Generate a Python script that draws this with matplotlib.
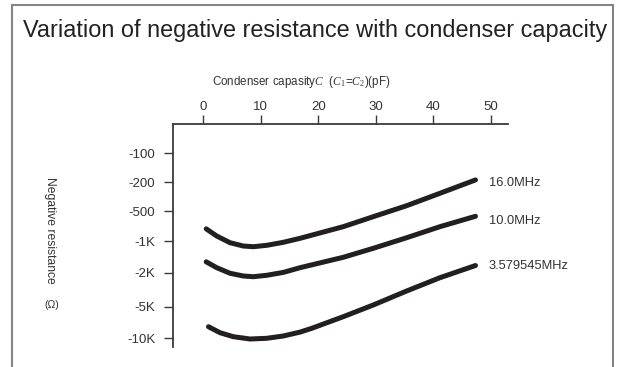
import numpy as np
import matplotlib
matplotlib.use("Agg")
import matplotlib.pyplot as plt
from matplotlib.patches import Rectangle

plt.rcParams["font.family"] = ["Liberation Sans", "DejaVu Sans"]
plt.rcParams["mathtext.fontset"] = "custom"
plt.rcParams["mathtext.rm"] = "Liberation Serif"
plt.rcParams["mathtext.it"] = "Liberation Serif:italic"

# Condenser capacity C (pF) and negative resistance (ohm) for each crystal
cap_16mhz = [0.5, 2.33, 4.64, 6.95, 8.69, 11.02, 13.9, 16.8, 24.33, 29.54, 35.34, 41.13, 47.3]
res_16mhz = [-755, -891, -1038, -1116, -1133, -1099, -1029, -940, -718, -570, -422, -284, -189]

cap_10mhz = [0.5, 2.33, 4.64, 6.95, 8.69, 11.02, 13.9, 16.8, 24.33, 29.54, 35.34, 41.13, 47.3]
res_10mhz = [-1576, -1793, -2030, -2186, -2228, -2145, -1987, -1793, -1428, -1173, -927, -718, -565]

cap_3579 = [0.9, 2.9, 5.21, 8.12, 11.02, 13.9, 16.8, 18.84, 24.33, 29.54, 35.34, 41.13, 47.3]
res_3579 = [-7756, -8845, -9654, -10155, -10000, -9506, -8730, -8035, -6223, -4775, -3274, -2288, -1709]

series_labels = ["16.0MHz", "10.0MHz", "3.579545MHz"]

x_ticks = [0, 10, 20, 30, 40, 50]
y_ticks = [-100, -200, -500, -1000, -2000, -5000, -10000]
y_tick_labels = ["-100", "-200", "-500", "-1K", "-2K", "-5K", "-10K"]

# Piecewise resistance axis: log10|R| at each tick -> axis position
_AX_LOG = np.log10(np.abs(np.array(y_ticks, dtype=float)))
_AX_POS = np.array([193.4, 164.4, 135.7, 105.7, 74.0, 40.0, 8.4])
_AX_TOP = 222.4


def _pw(x, xp, fp):
    x = np.asarray(x, dtype=float)
    y = np.interp(x, xp, fp)
    lo = x < xp[0]
    hi = x > xp[-1]
    y = np.where(lo, fp[0] + (x - xp[0]) * (fp[1] - fp[0]) / (xp[1] - xp[0]), y)
    y = np.where(hi, fp[-1] + (x - xp[-1]) * (fp[-1] - fp[-2]) / (xp[-1] - xp[-2]), y)
    return y


def _forward(v):
    lg = np.log10(np.clip(-np.asarray(v, dtype=float), 1e-9, None))
    return _pw(lg, _AX_LOG, _AX_POS)


def _inverse(p):
    lg = _pw(p, _AX_POS[::-1], _AX_LOG[::-1])
    return -(10.0 ** lg)


W, H = 627, 367
fig = plt.figure(figsize=(W / 100, H / 100), dpi=100)

# outer frame
fig.patches.append(Rectangle((12 / W, -0.2), (613 - 12) / W, 0.2 + (H - 5) / H,
                             transform=fig.transFigure, fill=False,
                             edgecolor="#858585", linewidth=1.5, clip_on=False))

ax = fig.add_axes([172.7 / W, (H - 346.7) / H, (508 - 172.7) / W, (346.7 - 124.3) / H])
ax.set_yscale("function", functions=(_forward, _inverse))
ax.set_xlim(-5.32, 52.95)
ax.set_ylim(float(_inverse(0.0)), float(_inverse(_AX_TOP)))

ink = "#231f20"
for cap, res in [(cap_16mhz, res_16mhz), (cap_10mhz, res_10mhz), (cap_3579, res_3579)]:
    ax.plot(cap, res, color=ink, linewidth=3.6, solid_capstyle="round",
            solid_joinstyle="round")

offsets = [(10, -2.4), (10, -3.6), (9.5, -0.4)]
for cap, res, lab, off in zip([cap_16mhz, cap_10mhz, cap_3579],
                              [res_16mhz, res_10mhz, res_3579],
                              series_labels, offsets):
    ax.annotate(lab, xy=(cap[-1], res[-1]), xytext=off, textcoords="offset points",
                ha="left", va="center", fontsize=9.3, color="#333333")

for side in ["right", "bottom"]:
    ax.spines[side].set_visible(False)
for side in ["top", "left"]:
    ax.spines[side].set_color("#3a3a3a")
    ax.spines[side].set_linewidth(1.3)

ax.xaxis.tick_top()
ax.set_xticks(x_ticks)
ax.set_xticklabels([str(t) for t in x_ticks])
ax.set_yticks(y_ticks)
ax.set_yticklabels(y_tick_labels)
ax.minorticks_off()
ax.tick_params(axis="x", direction="out", length=6.7, width=1.0, color="#3a3a3a",
               pad=1.5, labelsize=9.5, labelcolor="#333333")
ax.tick_params(axis="y", direction="out", length=6.3, width=1.0, color="#3a3a3a",
               pad=6.3, labelsize=9.5, labelcolor="#333333")

fig.text(315 / W, (H - 30) / H, "Variation of negative resistance with condenser capacity",
         ha="center", va="center", fontsize=16.9, color="#222222")
fig.text(301.7 / W, (H - 81.7) / H,
         r"Condenser capasity$C$  ($C$$_{1}$=$C$$_{2}$)(pF)",
         ha="center", va="center", fontsize=8.4, color="#333333")
fig.text(50 / W, (H - 230) / H, "Negative resistance", rotation=-90,
         ha="center", va="center", fontsize=8.7, color="#333333")
fig.text(51.7 / W, (H - 305) / H, "(\u03a9)", ha="center", va="center",
         fontsize=7.5, color="#333333")

fig.savefig("out.png", dpi=100)
